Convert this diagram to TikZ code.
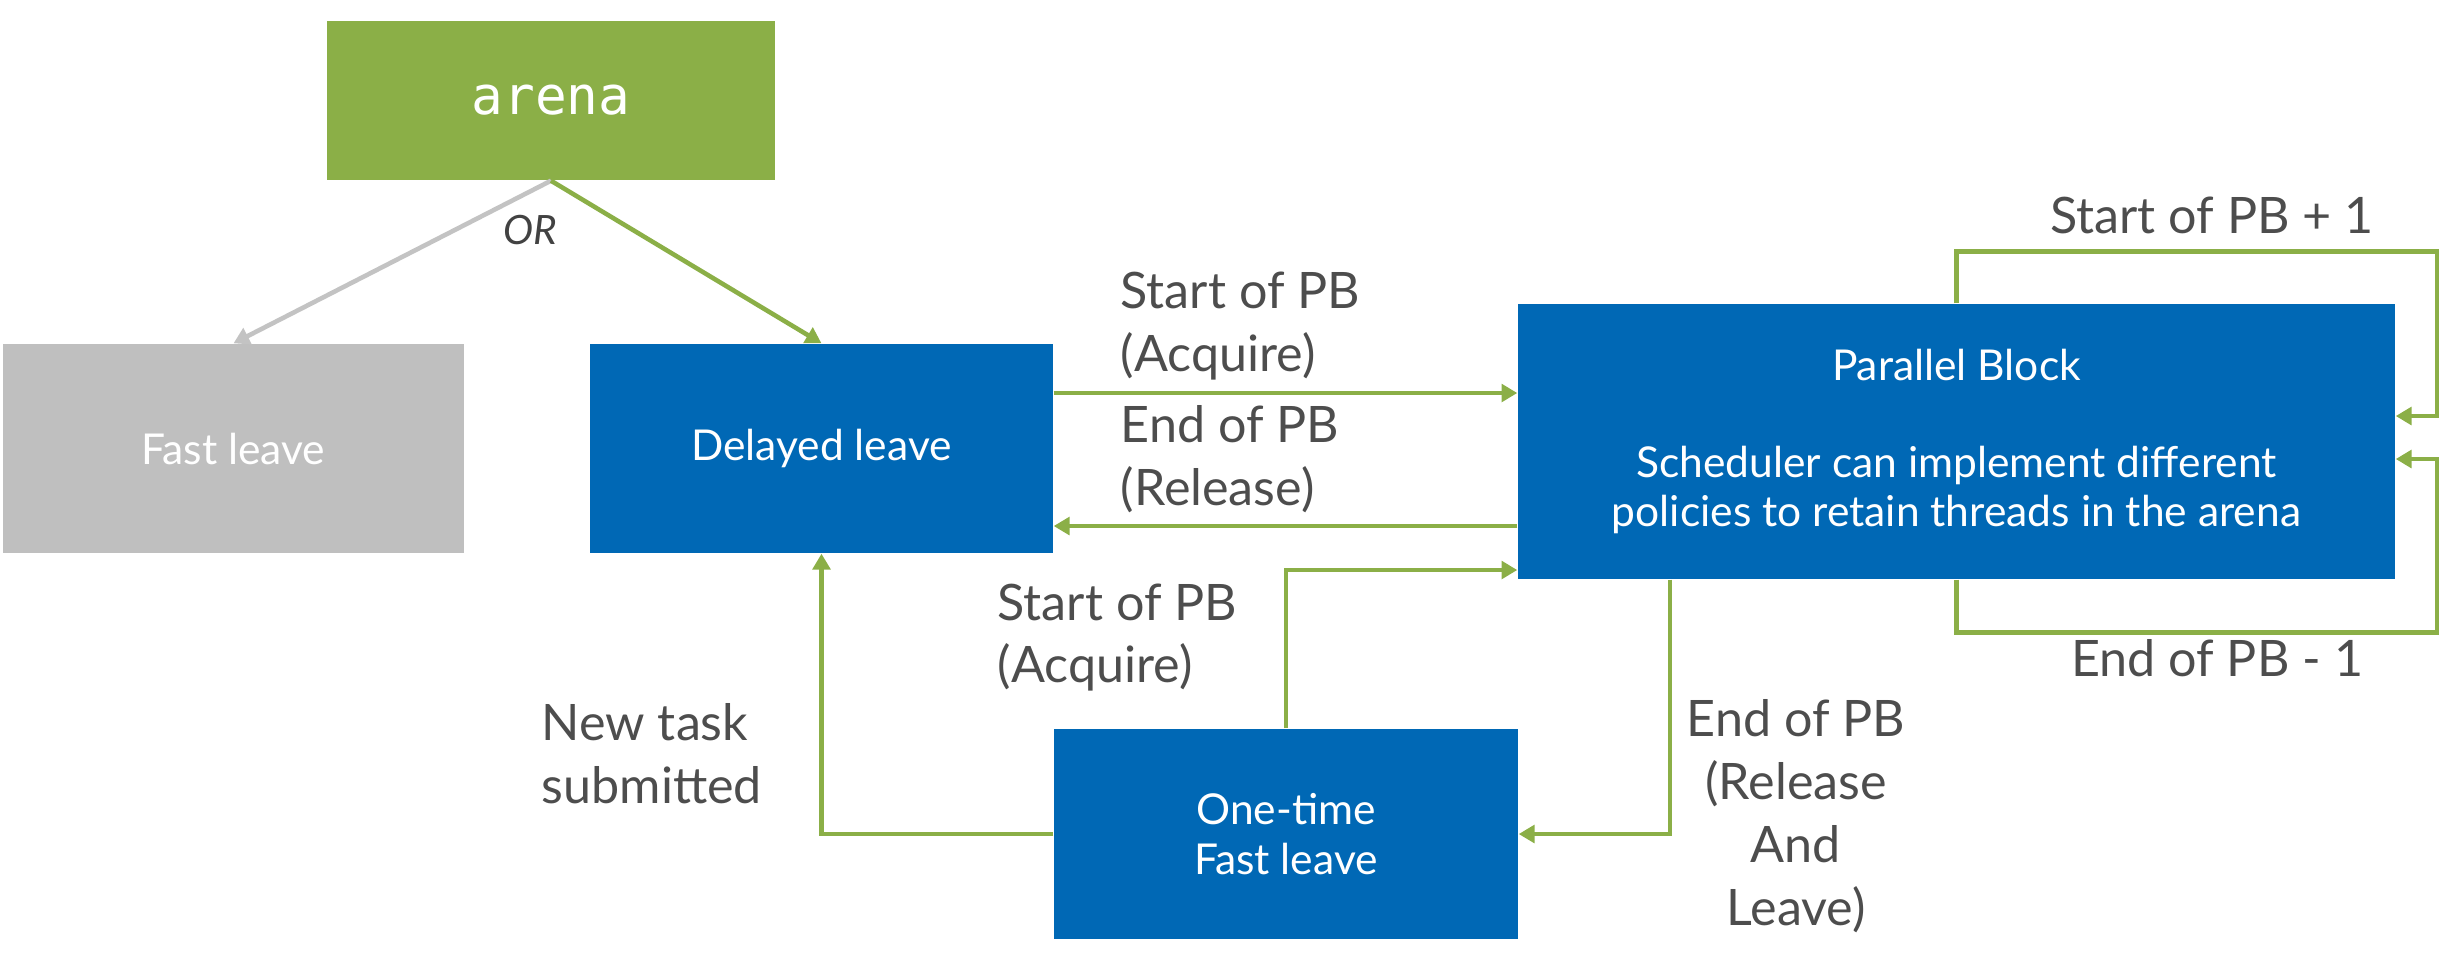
\documentclass[tikz,border=0pt]{standalone}
\usepackage{fontspec}
\setmainfont{Lato}
\setmonofont{DejaVu Sans Mono}
\usetikzlibrary{arrows.meta}
\definecolor{arenagreen}{HTML}{8BAF47}
\definecolor{boxblue}{HTML}{0068B5}
\definecolor{boxgray}{HTML}{BFBFBF}
\definecolor{linegray}{HTML}{C3C3C3}
\definecolor{textgray}{HTML}{4D4D4D}
\begin{document}
\begin{tikzpicture}[
    box/.style={fill=#1, text=white, inner sep=0pt, align=center,
      font=\fontsize{12.1}{14}\selectfont},
    flow/.style={draw=arenagreen, line width=1.3pt,
      -{Triangle[length=4.5pt,width=5pt]}},
    tag/.style={text=textgray, inner sep=0pt,
      font=\fontsize{14.3}{17.9}\selectfont}
  ]
  \useasboundingbox (0,0) rectangle (24.43,-9.57);
  \draw
    (5.51,-1.005) node[box=arenagreen, minimum width=4.48cm, minimum height=1.59cm,
      font=\ttfamily\fontsize{15}{18}\selectfont] (arena){arena}
    (2.335,-4.485) node[box=boxgray, minimum width=4.61cm, minimum height=2.09cm] (fast){Fast leave}
    (8.215,-4.485) node[box=boxblue, minimum width=4.63cm, minimum height=2.09cm] (delayed){Delayed leave}
    (19.565,-4.415) node[box=boxblue, minimum width=8.77cm, minimum height=2.75cm] (pb){Parallel Block\\[0.48cm]
      Scheduler can implement different\\policies to retain threads in the arena}
    (12.86,-8.34) node[box=boxblue, minimum width=4.64cm, minimum height=2.10cm] (onetime){One-time\\Fast leave};
  \draw
    (5.30,-2.30) node[tag, text=textgray!85!black, font=\itshape\fontsize{11.5}{14}\selectfont] (or){OR}
    (11.20,-3.26) node[tag, anchor=west, align=left] (startpb){Start of PB\\(Acquire)}
    (11.20,-4.59) node[tag, anchor=west, align=left] (endpb){End of PB\\(Release)}
    (9.97,-6.375) node[tag, anchor=west, align=left] (startpbb){Start of PB\\(Acquire)}
    (5.41,-7.535) node[tag, anchor=west, align=left] (newtask){New task\\submitted}
    (17.96,-8.16) node[tag, align=center] (endleave){End of PB\\(Release\\And\\Leave)}
    (22.12,-2.15) node[tag] (startplus){Start of PB + 1}
    (22.17,-6.58) node[tag] (endminus){End of PB - 1};
  \begin{scope}[flow]
    \draw[draw=linegray] (arena.south) to (fast.north);
    \draw (arena.south) to (delayed.north);
    \draw ([yshift=5.55mm]delayed.east) to ([yshift=5.55mm]delayed.east -| pb.west);
    \draw ([yshift=-7.75mm]delayed.east -| pb.west) to ([yshift=-7.75mm]delayed.east);
    \draw (onetime.west) -| (delayed.south);
    \draw (onetime.north) |- ([yshift=-12.85mm]pb.west);
    \draw ([xshift=-28.65mm]pb.south) |- (onetime.east);
    \draw (pb.north) -- ++(0,0.52) -- ++(4.805,0) |- ([yshift=2.55mm]pb.east);
    \draw (pb.south) -- ++(0,-0.53) -- ++(4.805,0) |- ([yshift=-1.75mm]pb.east);
  \end{scope}
\end{tikzpicture}
\end{document}
